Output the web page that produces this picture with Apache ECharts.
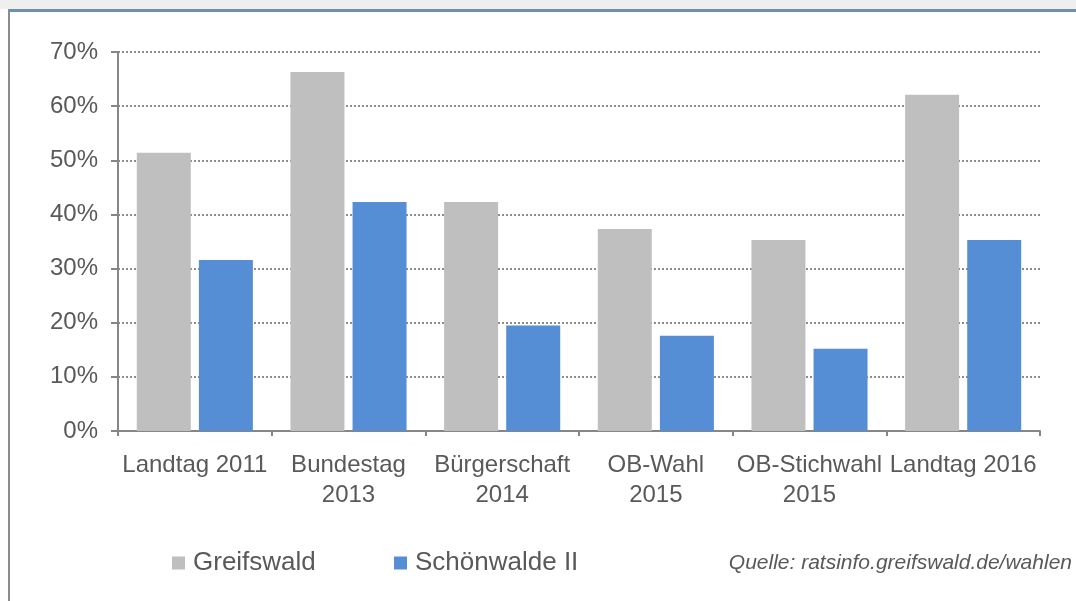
<!DOCTYPE html>
<html lang="de" style="height: 100%">
<head>
  <meta charset="UTF-8">
  <title>Wahlbeteiligung Greifswald / Schönwalde II</title>
  <script src="https://cdn.jsdelivr.net/npm/echarts@6/dist/echarts.min.js"></script>
</head>
<body style="height: 100%; margin: 0;">
  <div id="main" style="width: 1076px; height: 601px; background: #fff;"></div>

  <script>
  // Wahlen (Kategorien)
  const wahlen = ['Landtag 2011', 'Bundestag\n2013', 'Bürgerschaft\n2014', 'OB-Wahl\n2015', 'OB-Stichwahl\n2015', 'Landtag 2016'];
  // Beteiligung in Prozent
  const greifswald = [51.4, 66.3, 42.3, 37.3, 35.3, 62.1];
  const schoenwalde = [31.6, 42.3, 19.5, 17.6, 15.2, 35.3];
  const quelle = 'Quelle: ratsinfo.greifswald.de/wahlen';

  const textColor = '#595959';
  const font = '"Liberation Sans", Arial, sans-serif';

  const chart = echarts.init(document.getElementById('main'));

  const option = {
    backgroundColor: '#fff',
    animation: false,
    textStyle: { fontFamily: font },
    grid: { left: 118, right: 36, top: 52, bottom: 170, containLabel: false },
    graphic: [
      // Rahmen oben / links
      { type: 'rect', shape: { x: 0, y: 0, width: 1076, height: 9 }, style: { fill: '#efefef' }, silent: true },
      { type: 'rect', shape: { x: 8, y: 9, width: 1068, height: 3 }, style: { fill: '#6e92aa' }, silent: true },
      { type: 'rect', shape: { x: 8, y: 9, width: 2, height: 592 }, style: { fill: '#8c8c8c' }, silent: true },
      {
        type: 'text', right: 4, top: 553,
        style: { text: quelle, font: 'italic 21px ' + font, fill: textColor }
      }
    ],
    legend: [
      {
        left: 172, top: 550, padding: 0, icon: 'rect', itemWidth: 13, itemHeight: 13,
        data: ['Greifswald'],
        textStyle: { fontSize: 26, color: textColor, fontFamily: font, padding: [0, 0, 0, 3] }
      },
      {
        left: 394, top: 550, padding: 0, icon: 'rect', itemWidth: 13, itemHeight: 13,
        data: ['Schönwalde II'],
        textStyle: { fontSize: 26, color: textColor, fontFamily: font, padding: [0, 0, 0, 3] }
      }
    ],
    xAxis: {
      type: 'category',
      data: wahlen,
      axisLine: { lineStyle: { color: '#868686', width: 2 } },
      axisTick: { show: true, length: 5, lineStyle: { color: '#868686', width: 2 } },
      axisLabel: { color: textColor, fontSize: 24, lineHeight: 30, margin: 19, interval: 0 }
    },
    yAxis: {
      type: 'value',
      min: 0, max: 70, interval: 10,
      axisLine: { show: true, lineStyle: { color: '#868686', width: 2 } },
      axisTick: { show: true, length: 7, lineStyle: { color: '#868686', width: 2 } },
      axisLabel: { color: textColor, fontSize: 24, margin: 20, formatter: '{value}%' },
      splitLine: { lineStyle: { color: '#8c8c8c', width: 2, type: [2, 2] } }
    },
    series: [
      {
        name: 'Greifswald', type: 'bar', data: greifswald,
        barWidth: 54, barGap: '15%',
        itemStyle: { color: '#bfbfbf' }
      },
      {
        name: 'Schönwalde II', type: 'bar', data: schoenwalde,
        barWidth: 54,
        itemStyle: { color: '#558ed5' }
      }
    ]
  };

  chart.setOption(option);
  </script>
</body>
</html>
